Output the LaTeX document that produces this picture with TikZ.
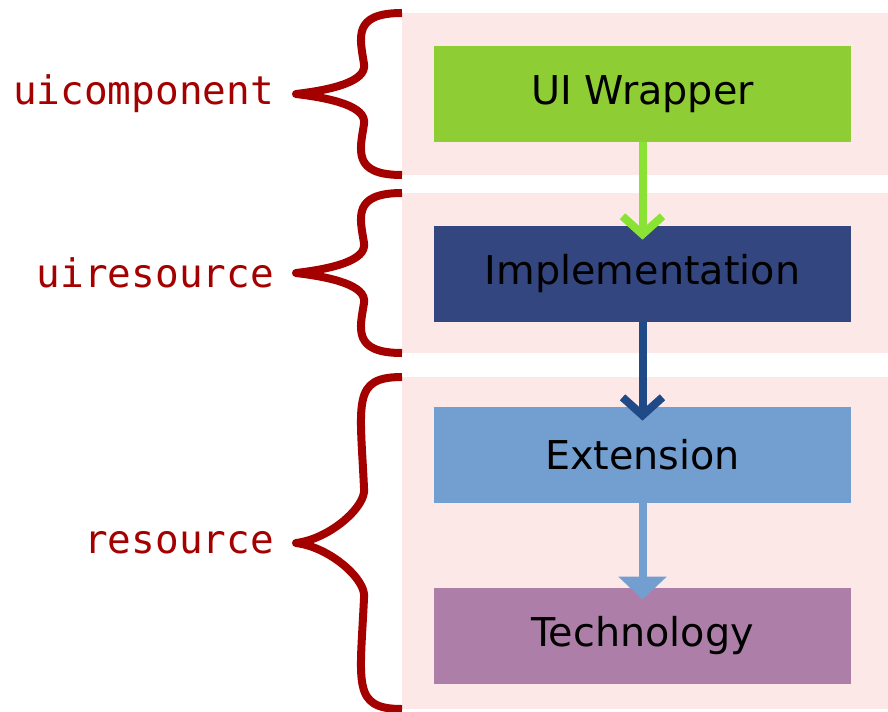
\documentclass[tikz,border=0pt]{standalone}
\usepackage{fontspec}
\setmainfont{DejaVu Sans}
\setmonofont{DejaVu Sans Mono}
\usetikzlibrary{arrows.meta}

\definecolor{bandpink}{HTML}{FDE8E8}
\definecolor{bracered}{HTML}{A40000}
\definecolor{wrapgreen}{HTML}{8FCD35}
\definecolor{wraparrow}{HTML}{8AE234}
\definecolor{implblue}{HTML}{34467F}
\definecolor{implarrow}{HTML}{204A87}
\definecolor{extblue}{HTML}{729FCF}
\definecolor{techplum}{HTML}{AD7FA8}

\tikzset{
  layerbox/.style={minimum width=8.34cm, minimum height=1.92cm, inner sep=0pt,
    text=black, font=\fontsize{22.6}{27}\selectfont},
  bracelabel/.style={anchor=east, text=bracered, font=\ttfamily\fontsize{22.4}{27}\selectfont},
  bracestyle/.style={draw=bracered, line width=0.16cm, line join=round},
  flow/.style={line width=0.16cm}
}

% brace: top, bottom, height of the tip curve
\newcommand{\layerbrace}[3]{%
  \draw[bracestyle] (402,#1) .. controls (352,#1) and (360,{#1+25}) .. (364,{(#1+#2)/2-#3})
    .. controls (367,{(#1+#2)/2-#3+18}) and (330,{(#1+#2)/2-4}) .. (296,{(#1+#2)/2})
    .. controls (330,{(#1+#2)/2+4}) and (367,{(#1+#2)/2+#3-18}) .. (364,{(#1+#2)/2+#3})
    .. controls (360,{#2-25}) and (352,#2) .. (402,#2);}

\begin{document}
\begin{tikzpicture}[x=0.02cm, y=-0.02cm]
  \useasboundingbox (0,0) rectangle (888,711);

  % Layers
  \foreach \top/\bot/\h/\name in {13/175/30/uicomponent, 193/353/30/uiresource, 377/709/55/resource} {
    \fill[bandpink] (402,\top) rectangle (888,\bot);
    \layerbrace{\top}{\bot}{\h}
    \node[bracelabel] (lbl-\name) at (280,{(\top+\bot)/2}) {\name};
  }

  % Boxes
  \node[layerbox, fill=wrapgreen] (wrapper) at (642.5,94) {UI Wrapper};
  \node[layerbox, fill=implblue] (impl) at (642.5,274) {Implementation};
  \node[layerbox, fill=extblue] (ext) at (642.5,455) {Extension};
  \node[layerbox, fill=techplum] (tech) at (642.5,636) {Technology};

  % Arrows
  \draw[flow, wraparrow, -{Straight Barb[length=0.36cm, width=0.8cm]}] (wrapper.south) -- ([yshift=-0.28cm]impl.north);
  \draw[flow, implarrow, -{Straight Barb[length=0.36cm, width=0.8cm]}] (impl.south) -- ([yshift=-0.28cm]ext.north);
  \draw[flow, extblue, -{Triangle[length=0.46cm, width=0.94cm]}] (ext.south) -- ([yshift=-0.24cm]tech.north);
\end{tikzpicture}
\end{document}
